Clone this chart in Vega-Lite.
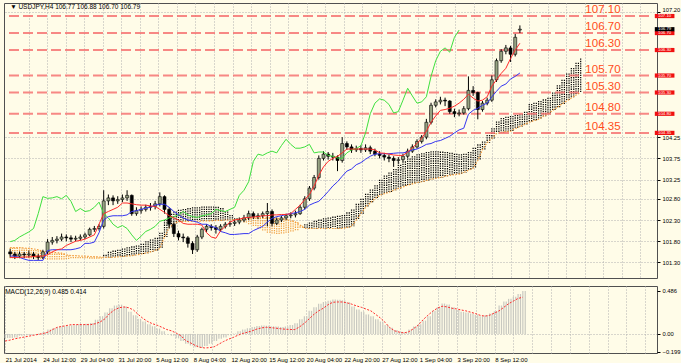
{
  "$schema": "https://vega.github.io/schema/vega-lite/v6.json",
  "background": "#fffce8",
  "padding": {"left": 2, "top": 2, "right": 0, "bottom": 0},
  "autosize": {"type": "pad"},
  "spacing": 6,
  "config": {
    "view": {"stroke": "#505050", "strokeWidth": 1, "fill": "#fffce8"},
    "font": "Liberation Sans",
    "axis": {"labelFont": "Liberation Sans", "labelFontSize": 6, "labelColor": "#000000", "domain": false, "gridColor": "#b0b0b0", "gridDash": [1, 2], "tickColor": "#000000", "tickSize": 3, "labelOverlap": false, "labelBound": false}
  },
  "datasets": {
    "titles": [
      {"w": "main", "t": "▼ USDJPY,H4  106.77 106.88 106.70 106.79"},
      {"w": "macd", "t": "MACD(12,26,9) 0.485 0.414"}
    ],
    "levels": [
      {"p": 107.10, "t": "107.10", "kind": "level"},
      {"p": 106.70, "t": "106.70", "kind": "level"},
      {"p": 106.30, "t": "106.30", "kind": "level"},
      {"p": 105.70, "t": "105.70", "kind": "level"},
      {"p": 105.30, "t": "105.30", "kind": "level"},
      {"p": 104.80, "t": "104.80", "kind": "level"},
      {"p": 104.35, "t": "104.35", "kind": "level"},
      {"p": 106.79, "t": "106.79", "kind": "price"}
    ],
    "bars": [
      {"i":0,"o":101.55,"h":101.62,"l":101.42,"c":101.5,"t":101.42,"k":101.45,"g":101.79},
      {"i":2,"o":101.5,"h":101.55,"l":101.38,"c":101.45,"t":101.42,"k":101.45,"g":101.82},
      {"i":4,"o":101.45,"h":101.56,"l":101.4,"c":101.5,"t":101.42,"k":101.42,"g":101.9},
      {"i":6,"o":101.5,"h":101.55,"l":101.4,"c":101.48,"t":101.43,"k":101.38,"g":101.96},
      {"i":8,"o":101.48,"h":101.58,"l":101.42,"c":101.5,"t":101.43,"k":101.35,"g":102.02},
      {"i":10,"o":101.5,"h":101.55,"l":101.38,"c":101.45,"t":101.44,"k":101.35,"g":102.1},
      {"i":12,"o":101.45,"h":101.5,"l":101.35,"c":101.42,"t":101.45,"k":101.35,"g":102.45},
      {"i":14,"o":101.42,"h":101.6,"l":101.38,"c":101.55,"t":101.45,"k":101.35,"g":102.85},
      {"i":16,"o":101.55,"h":101.85,"l":101.5,"c":101.78,"t":101.48,"k":101.58,"g":102.81},
      {"i":18,"o":101.78,"h":101.9,"l":101.72,"c":101.82,"t":101.55,"k":101.6,"g":102.82},
      {"i":20,"o":101.82,"h":101.92,"l":101.75,"c":101.85,"t":101.6,"k":101.6,"g":102.85},
      {"i":22,"o":101.85,"h":101.98,"l":101.8,"c":101.9,"t":101.62,"k":101.6,"g":102.8},
      {"i":24,"o":101.9,"h":101.96,"l":101.8,"c":101.88,"t":101.7,"k":101.6,"g":102.88},
      {"i":26,"o":101.88,"h":101.94,"l":101.78,"c":101.85,"t":101.75,"k":101.6,"g":102.74},
      {"i":28,"o":101.85,"h":101.93,"l":101.8,"c":101.87,"t":101.8,"k":101.62,"g":102.5},
      {"i":30,"o":101.87,"h":101.96,"l":101.82,"c":101.9,"t":101.82,"k":101.65,"g":102.57},
      {"i":32,"o":101.9,"h":102.0,"l":101.85,"c":101.95,"t":101.85,"k":101.75,"g":102.5},
      {"i":34,"o":101.95,"h":102.12,"l":101.92,"c":102.08,"t":101.9,"k":101.75,"g":102.52},
      {"i":36,"o":102.08,"h":102.16,"l":102.02,"c":102.1,"t":101.95,"k":101.78,"g":102.6},
      {"i":38,"o":102.1,"h":102.2,"l":102.05,"c":102.15,"t":102.2,"k":102.0,"g":102.72},
      {"i":40,"o":102.15,"h":103.0,"l":102.1,"c":102.75,"t":102.45,"k":102.3,"g":102.45},
      {"i":42,"o":102.75,"h":102.9,"l":102.65,"c":102.82,"t":102.5,"k":102.38,"g":102.35},
      {"i":44,"o":102.82,"h":102.88,"l":102.65,"c":102.75,"t":102.55,"k":102.4,"g":102.2},
      {"i":46,"o":102.75,"h":102.86,"l":102.68,"c":102.78,"t":102.6,"k":102.4,"g":102.12},
      {"i":48,"o":102.78,"h":102.9,"l":102.72,"c":102.82,"t":102.7,"k":102.4,"g":102.17},
      {"i":50,"o":102.82,"h":103.0,"l":102.75,"c":102.88,"t":102.7,"k":102.42,"g":102.1},
      {"i":52,"o":102.88,"h":102.9,"l":102.4,"c":102.45,"t":102.68,"k":102.5,"g":101.95},
      {"i":54,"o":102.45,"h":102.6,"l":102.4,"c":102.52,"t":102.66,"k":102.52,"g":101.82},
      {"i":56,"o":102.52,"h":102.62,"l":102.45,"c":102.55,"t":102.65,"k":102.55,"g":101.92},
      {"i":58,"o":102.55,"h":102.66,"l":102.5,"c":102.6,"t":102.65,"k":102.58,"g":102.03},
      {"i":60,"o":102.6,"h":102.7,"l":102.52,"c":102.62,"t":102.63,"k":102.6,"g":102.08},
      {"i":62,"o":102.62,"h":102.75,"l":102.55,"c":102.68,"t":102.62,"k":102.65,"g":102.15},
      {"i":64,"o":102.68,"h":102.95,"l":102.62,"c":102.85,"t":102.55,"k":102.67,"g":102.27},
      {"i":66,"o":102.85,"h":102.88,"l":102.45,"c":102.55,"t":102.48,"k":102.67,"g":102.3},
      {"i":68,"o":102.55,"h":102.6,"l":102.1,"c":102.2,"t":102.4,"k":102.6,"g":102.35},
      {"i":70,"o":102.2,"h":102.25,"l":101.9,"c":101.98,"t":102.35,"k":102.5,"g":102.38},
      {"i":72,"o":101.98,"h":102.05,"l":101.82,"c":101.9,"t":102.3,"k":102.42,"g":102.42},
      {"i":74,"o":101.9,"h":101.98,"l":101.78,"c":101.88,"t":102.22,"k":102.35,"g":102.5},
      {"i":76,"o":101.88,"h":101.92,"l":101.65,"c":101.75,"t":102.2,"k":102.3,"g":102.42},
      {"i":78,"o":101.75,"h":101.8,"l":101.5,"c":101.6,"t":102.2,"k":102.28,"g":102.38},
      {"i":80,"o":101.6,"h":101.95,"l":101.55,"c":101.9,"t":102.2,"k":102.25,"g":102.36},
      {"i":82,"o":101.9,"h":102.12,"l":101.85,"c":102.08,"t":102.18,"k":102.2,"g":102.4},
      {"i":84,"o":102.08,"h":102.2,"l":102.02,"c":102.15,"t":102.0,"k":102.2,"g":102.42},
      {"i":86,"o":102.15,"h":102.2,"l":102.05,"c":102.12,"t":101.9,"k":102.15,"g":102.45},
      {"i":88,"o":102.12,"h":102.18,"l":101.98,"c":102.08,"t":101.87,"k":102.12,"g":102.55},
      {"i":90,"o":102.08,"h":102.2,"l":102.02,"c":102.15,"t":102.05,"k":102.03,"g":102.52},
      {"i":92,"o":102.15,"h":102.25,"l":102.1,"c":102.2,"t":102.15,"k":102.0,"g":102.5},
      {"i":94,"o":102.2,"h":102.28,"l":102.14,"c":102.22,"t":102.25,"k":101.96,"g":102.55},
      {"i":96,"o":102.22,"h":102.3,"l":102.16,"c":102.25,"t":102.3,"k":101.96,"g":102.6},
      {"i":98,"o":102.25,"h":102.36,"l":102.2,"c":102.3,"t":102.32,"k":101.97,"g":102.88},
      {"i":100,"o":102.3,"h":102.42,"l":102.25,"c":102.35,"t":102.35,"k":101.98,"g":103.0},
      {"i":102,"o":102.35,"h":102.52,"l":102.3,"c":102.45,"t":102.36,"k":101.98,"g":103.2},
      {"i":104,"o":102.45,"h":102.5,"l":102.32,"c":102.38,"t":102.37,"k":102.05,"g":103.68},
      {"i":106,"o":102.38,"h":102.46,"l":102.32,"c":102.4,"t":102.38,"k":102.1,"g":103.85},
      {"i":108,"o":102.4,"h":102.5,"l":102.35,"c":102.45,"t":102.4,"k":102.15,"g":103.82},
      {"i":110,"o":102.45,"h":102.7,"l":102.15,"c":102.5,"t":102.4,"k":102.25,"g":103.88},
      {"i":112,"o":102.5,"h":102.55,"l":102.15,"c":102.22,"t":102.42,"k":102.34,"g":103.92},
      {"i":114,"o":102.22,"h":102.36,"l":102.18,"c":102.3,"t":102.42,"k":102.38,"g":103.88},
      {"i":116,"o":102.3,"h":102.4,"l":102.25,"c":102.35,"t":102.43,"k":102.4,"g":104.05},
      {"i":118,"o":102.35,"h":102.45,"l":102.3,"c":102.4,"t":102.43,"k":102.43,"g":104.2},
      {"i":120,"o":102.4,"h":102.48,"l":102.34,"c":102.42,"t":102.45,"k":102.45,"g":104.08},
      {"i":122,"o":102.42,"h":102.52,"l":102.36,"c":102.45,"t":102.55,"k":102.47,"g":103.99},
      {"i":124,"o":102.45,"h":102.66,"l":102.42,"c":102.6,"t":102.65,"k":102.5,"g":103.99},
      {"i":126,"o":102.6,"h":102.86,"l":102.55,"c":102.8,"t":102.78,"k":102.55,"g":104.02},
      {"i":128,"o":102.8,"h":103.1,"l":102.75,"c":103.05,"t":102.9,"k":102.65,"g":104.08},
      {"i":130,"o":103.05,"h":103.36,"l":103.0,"c":103.3,"t":103.1,"k":102.7,"g":103.88},
      {"i":132,"o":103.3,"h":103.82,"l":103.25,"c":103.75,"t":103.35,"k":102.74,"g":103.9},
      {"i":134,"o":103.75,"h":103.92,"l":103.7,"c":103.85,"t":103.55,"k":102.85,"g":103.9},
      {"i":136,"o":103.85,"h":103.9,"l":103.72,"c":103.8,"t":103.68,"k":102.97,"g":103.82},
      {"i":138,"o":103.8,"h":103.88,"l":103.7,"c":103.78,"t":103.75,"k":103.1,"g":103.8},
      {"i":140,"o":103.78,"h":103.82,"l":103.45,"c":103.7,"t":103.8,"k":103.2,"g":103.76},
      {"i":142,"o":103.7,"h":104.25,"l":103.65,"c":104.1,"t":103.88,"k":103.33,"g":103.75},
      {"i":144,"o":104.1,"h":104.15,"l":103.95,"c":104.02,"t":103.97,"k":103.45,"g":103.88},
      {"i":146,"o":104.02,"h":104.08,"l":103.88,"c":103.95,"t":103.97,"k":103.5,"g":103.95},
      {"i":148,"o":103.95,"h":104.05,"l":103.9,"c":103.98,"t":103.97,"k":103.6,"g":103.98},
      {"i":150,"o":103.98,"h":104.06,"l":103.88,"c":103.95,"t":103.97,"k":103.65,"g":104.05},
      {"i":152,"o":103.95,"h":104.08,"l":103.9,"c":104.0,"t":103.97,"k":103.73,"g":104.35},
      {"i":154,"o":104.0,"h":104.05,"l":103.85,"c":103.92,"t":103.97,"k":103.8,"g":104.8},
      {"i":156,"o":103.92,"h":103.98,"l":103.8,"c":103.85,"t":103.95,"k":103.85,"g":105.05},
      {"i":158,"o":103.85,"h":103.92,"l":103.75,"c":103.82,"t":103.88,"k":103.86,"g":105.15},
      {"i":160,"o":103.82,"h":103.88,"l":103.7,"c":103.78,"t":103.87,"k":103.86,"g":105.12},
      {"i":162,"o":103.78,"h":103.84,"l":103.66,"c":103.75,"t":103.85,"k":103.86,"g":105.02},
      {"i":164,"o":103.75,"h":103.8,"l":103.55,"c":103.7,"t":103.83,"k":103.87,"g":104.82},
      {"i":166,"o":103.7,"h":103.78,"l":103.62,"c":103.72,"t":103.82,"k":103.88,"g":104.85},
      {"i":168,"o":103.72,"h":103.86,"l":103.68,"c":103.8,"t":103.82,"k":103.88,"g":105.12},
      {"i":170,"o":103.8,"h":103.98,"l":103.76,"c":103.92,"t":103.9,"k":103.9,"g":105.4},
      {"i":172,"o":103.92,"h":104.08,"l":103.88,"c":104.02,"t":104.0,"k":103.95,"g":105.22},
      {"i":174,"o":104.02,"h":104.2,"l":103.98,"c":104.15,"t":104.1,"k":103.97,"g":105.05},
      {"i":176,"o":104.15,"h":104.3,"l":104.1,"c":104.25,"t":104.22,"k":104.02,"g":105.08},
      {"i":178,"o":104.25,"h":104.68,"l":104.2,"c":104.6,"t":104.39,"k":104.08,"g":105.2},
      {"i":180,"o":104.6,"h":105.06,"l":104.55,"c":105.0,"t":104.6,"k":104.1,"g":105.68},
      {"i":182,"o":105.0,"h":105.14,"l":104.95,"c":105.08,"t":104.75,"k":104.15,"g":106.05},
      {"i":184,"o":105.08,"h":105.2,"l":105.02,"c":105.12,"t":104.88,"k":104.17,"g":106.27},
      {"i":186,"o":105.12,"h":105.18,"l":104.98,"c":105.1,"t":104.9,"k":104.22,"g":106.35},
      {"i":188,"o":105.1,"h":105.12,"l":104.8,"c":104.85,"t":104.93,"k":104.27,"g":106.25},
      {"i":190,"o":104.85,"h":104.92,"l":104.72,"c":104.8,"t":104.98,"k":104.35,"g":106.6},
      {"i":192,"o":104.8,"h":104.9,"l":104.74,"c":104.82,"t":105.05,"k":104.42,"g":106.77},
      {"i":194,"o":104.82,"h":104.98,"l":104.78,"c":104.92,"t":105.14,"k":104.46},
      {"i":196,"o":104.92,"h":105.68,"l":104.88,"c":105.35,"t":105.26,"k":104.79},
      {"i":198,"o":105.35,"h":105.45,"l":105.22,"c":105.3,"t":105.17,"k":104.88},
      {"i":200,"o":105.3,"h":105.32,"l":104.67,"c":104.9,"t":105.1,"k":104.93},
      {"i":202,"o":104.9,"h":105.1,"l":104.85,"c":105.05,"t":105.12,"k":105.0},
      {"i":204,"o":105.05,"h":105.18,"l":105.0,"c":105.12,"t":105.2,"k":105.05},
      {"i":206,"o":105.12,"h":105.7,"l":105.08,"c":105.6,"t":105.45,"k":105.2},
      {"i":208,"o":105.6,"h":106.1,"l":105.55,"c":106.05,"t":105.6,"k":105.33},
      {"i":210,"o":106.05,"h":106.32,"l":106.0,"c":106.27,"t":105.75,"k":105.45},
      {"i":212,"o":106.27,"h":106.42,"l":106.2,"c":106.35,"t":105.87,"k":105.5},
      {"i":214,"o":106.35,"h":106.4,"l":106.02,"c":106.2,"t":106.1,"k":105.62},
      {"i":216,"o":106.2,"h":106.68,"l":106.15,"c":106.6,"t":106.3,"k":105.68},
      {"i":218,"o":106.77,"h":106.88,"l":106.7,"c":106.79,"t":106.46,"k":105.76}
    ],
    "cloud": [
      {"i":0,"a":101.4,"b":101.65},{"i":2,"a":101.4,"b":101.65},{"i":4,"a":101.41,"b":101.65},{"i":6,"a":101.41,"b":101.64},
      {"i":8,"a":101.4,"b":101.63},{"i":10,"a":101.4,"b":101.62},{"i":12,"a":101.39,"b":101.6},{"i":14,"a":101.38,"b":101.56},
      {"i":16,"a":101.37,"b":101.55},{"i":18,"a":101.37,"b":101.54},{"i":20,"a":101.37,"b":101.53},{"i":22,"a":101.37,"b":101.52},
      {"i":24,"a":101.38,"b":101.48},{"i":26,"a":101.4,"b":101.46},{"i":28,"a":101.4,"b":101.46},{"i":30,"a":101.4,"b":101.45},
      {"i":32,"a":101.4,"b":101.45},{"i":34,"a":101.39,"b":101.44},{"i":36,"a":101.39,"b":101.44},{"i":38,"a":101.39,"b":101.43},
      {"i":40,"a":101.48,"b":101.42},{"i":42,"a":101.55,"b":101.42},{"i":44,"a":101.58,"b":101.42},{"i":46,"a":101.6,"b":101.43},
      {"i":48,"a":101.63,"b":101.44},{"i":50,"a":101.66,"b":101.45},{"i":52,"a":101.68,"b":101.46},{"i":54,"a":101.7,"b":101.48},
      {"i":56,"a":101.74,"b":101.5},{"i":58,"a":101.8,"b":101.52},{"i":60,"a":101.84,"b":101.55},{"i":62,"a":101.88,"b":101.58},
      {"i":64,"a":102.0,"b":101.63},{"i":66,"a":102.3,"b":101.9},{"i":68,"a":102.45,"b":102.12},{"i":70,"a":102.5,"b":102.22},
      {"i":72,"a":102.54,"b":102.26},{"i":74,"a":102.56,"b":102.27},{"i":76,"a":102.58,"b":102.27},{"i":78,"a":102.6,"b":102.27},
      {"i":80,"a":102.6,"b":102.27},{"i":82,"a":102.62,"b":102.28},{"i":84,"a":102.62,"b":102.28},{"i":86,"a":102.62,"b":102.28},
      {"i":88,"a":102.61,"b":102.29},{"i":90,"a":102.58,"b":102.29},{"i":92,"a":102.5,"b":102.3},{"i":94,"a":102.42,"b":102.3},
      {"i":96,"a":102.34,"b":102.31},{"i":98,"a":102.28,"b":102.32},{"i":100,"a":102.24,"b":102.33},{"i":102,"a":102.2,"b":102.34},
      {"i":104,"a":102.16,"b":102.35},{"i":106,"a":102.1,"b":102.35},{"i":108,"a":102.05,"b":102.35},{"i":110,"a":102.0,"b":102.35},
      {"i":112,"a":101.98,"b":102.35},{"i":114,"a":101.97,"b":102.34},{"i":116,"a":101.98,"b":102.33},{"i":118,"a":102.0,"b":102.32},
      {"i":120,"a":102.03,"b":102.3},{"i":122,"a":102.06,"b":102.25},{"i":124,"a":102.12,"b":102.18},{"i":126,"a":102.2,"b":102.1},
      {"i":128,"a":102.24,"b":102.1},{"i":130,"a":102.28,"b":102.1},{"i":132,"a":102.31,"b":102.1},{"i":134,"a":102.34,"b":102.1},
      {"i":136,"a":102.36,"b":102.1},{"i":138,"a":102.38,"b":102.1},{"i":140,"a":102.4,"b":102.1},{"i":142,"a":102.42,"b":102.1},
      {"i":144,"a":102.48,"b":102.12},{"i":146,"a":102.55,"b":102.15},{"i":148,"a":102.68,"b":102.3},{"i":150,"a":102.8,"b":102.45},
      {"i":152,"a":102.92,"b":102.6},{"i":154,"a":103.02,"b":102.7},{"i":156,"a":103.12,"b":102.8},{"i":158,"a":103.25,"b":102.88},
      {"i":160,"a":103.35,"b":102.92},{"i":162,"a":103.42,"b":102.95},{"i":164,"a":103.5,"b":103.0},{"i":166,"a":103.6,"b":103.04},
      {"i":168,"a":103.68,"b":103.08},{"i":170,"a":103.75,"b":103.12},{"i":172,"a":103.8,"b":103.15},{"i":174,"a":103.85,"b":103.18},
      {"i":176,"a":103.87,"b":103.2},{"i":178,"a":103.9,"b":103.23},{"i":180,"a":103.92,"b":103.26},{"i":182,"a":103.92,"b":103.28},
      {"i":184,"a":103.91,"b":103.3},{"i":186,"a":103.9,"b":103.33},{"i":188,"a":103.88,"b":103.35},{"i":190,"a":103.86,"b":103.37},
      {"i":192,"a":103.85,"b":103.38},{"i":194,"a":103.86,"b":103.42},{"i":196,"a":103.9,"b":103.47},{"i":198,"a":104.0,"b":103.52},
      {"i":200,"a":104.08,"b":103.7},{"i":202,"a":104.15,"b":103.96},{"i":204,"a":104.3,"b":104.12},{"i":206,"a":104.46,"b":104.22},
      {"i":208,"a":104.62,"b":104.34},{"i":210,"a":104.7,"b":104.36},{"i":212,"a":104.73,"b":104.38},{"i":214,"a":104.75,"b":104.39},
      {"i":216,"a":104.77,"b":104.45},{"i":218,"a":104.79,"b":104.5},{"i":220,"a":104.85,"b":104.55},{"i":222,"a":105.03,"b":104.6},
      {"i":224,"a":105.06,"b":104.64},{"i":226,"a":105.1,"b":104.67},{"i":228,"a":105.14,"b":104.74},{"i":230,"a":105.18,"b":104.79},
      {"i":232,"a":105.3,"b":104.88},{"i":234,"a":105.47,"b":104.95},{"i":236,"a":105.6,"b":105.03},{"i":238,"a":105.75,"b":105.1},
      {"i":240,"a":105.88,"b":105.17},{"i":242,"a":106.0,"b":105.24},{"i":244,"a":106.1,"b":105.3}
    ],
    "macd": [
      {"i":0,"m":-0.045,"s":-0.08},{"i":2,"m":-0.045,"s":-0.07},{"i":4,"m":-0.04,"s":-0.055},{"i":6,"m":-0.02,"s":-0.045},
      {"i":8,"m":-0.015,"s":-0.035},{"i":10,"m":-0.01,"s":-0.025},{"i":12,"m":0.0,"s":-0.015},{"i":14,"m":0.005,"s":-0.005},
      {"i":16,"m":0.02,"s":0.005},{"i":18,"m":0.05,"s":0.02},{"i":20,"m":0.06,"s":0.05},{"i":22,"m":0.075,"s":0.075},
      {"i":24,"m":0.086,"s":0.085},{"i":26,"m":0.09,"s":0.095},{"i":28,"m":0.098,"s":0.105},{"i":30,"m":0.105,"s":0.105},
      {"i":32,"m":0.108,"s":0.105},{"i":34,"m":0.115,"s":0.105},{"i":36,"m":0.122,"s":0.105},{"i":38,"m":0.16,"s":0.115},
      {"i":40,"m":0.2,"s":0.135},{"i":42,"m":0.24,"s":0.17},{"i":44,"m":0.29,"s":0.23},{"i":46,"m":0.32,"s":0.27},
      {"i":48,"m":0.33,"s":0.295},{"i":50,"m":0.31,"s":0.304},{"i":52,"m":0.25,"s":0.295},{"i":54,"m":0.21,"s":0.27},
      {"i":56,"m":0.17,"s":0.22},{"i":58,"m":0.14,"s":0.175},{"i":60,"m":0.11,"s":0.14},{"i":62,"m":0.086,"s":0.115},
      {"i":64,"m":0.06,"s":0.098},{"i":66,"m":0.03,"s":0.075},{"i":68,"m":0.0,"s":0.05},{"i":70,"m":-0.02,"s":0.035},
      {"i":72,"m":-0.05,"s":0.01},{"i":74,"m":-0.08,"s":-0.02},{"i":76,"m":-0.11,"s":-0.075},{"i":78,"m":-0.13,"s":-0.1},
      {"i":80,"m":-0.15,"s":-0.13},{"i":82,"m":-0.155,"s":-0.15},{"i":84,"m":-0.135,"s":-0.158},{"i":86,"m":-0.11,"s":-0.155},
      {"i":88,"m":-0.08,"s":-0.145},{"i":90,"m":-0.055,"s":-0.115},{"i":92,"m":-0.04,"s":-0.085},{"i":94,"m":-0.015,"s":-0.06},
      {"i":96,"m":0.005,"s":-0.04},{"i":98,"m":0.03,"s":-0.015},{"i":100,"m":0.049,"s":0.005},{"i":102,"m":0.065,"s":0.019},
      {"i":104,"m":0.079,"s":0.035},{"i":106,"m":0.088,"s":0.055},{"i":108,"m":0.094,"s":0.068},{"i":110,"m":0.092,"s":0.075},
      {"i":112,"m":0.086,"s":0.07},{"i":114,"m":0.083,"s":0.065},{"i":116,"m":0.079,"s":0.058},{"i":118,"m":0.085,"s":0.053},
      {"i":120,"m":0.1,"s":0.05},{"i":122,"m":0.12,"s":0.049},{"i":124,"m":0.165,"s":0.08},{"i":126,"m":0.2,"s":0.12},
      {"i":128,"m":0.26,"s":0.17},{"i":130,"m":0.3,"s":0.22},{"i":132,"m":0.34,"s":0.26},{"i":134,"m":0.36,"s":0.29},
      {"i":136,"m":0.375,"s":0.33},{"i":138,"m":0.387,"s":0.357},{"i":140,"m":0.385,"s":0.36},{"i":142,"m":0.38,"s":0.36},
      {"i":144,"m":0.357,"s":0.35},{"i":146,"m":0.31,"s":0.335},{"i":148,"m":0.274,"s":0.315},{"i":150,"m":0.25,"s":0.3},
      {"i":152,"m":0.22,"s":0.28},{"i":154,"m":0.2,"s":0.26},{"i":156,"m":0.165,"s":0.22},{"i":158,"m":0.14,"s":0.18},
      {"i":160,"m":0.1,"s":0.13},{"i":162,"m":0.07,"s":0.07},{"i":164,"m":0.045,"s":0.035},{"i":166,"m":0.025,"s":0.02},
      {"i":168,"m":0.019,"s":0.011},{"i":170,"m":0.05,"s":0.025},{"i":172,"m":0.085,"s":0.06},{"i":174,"m":0.11,"s":0.1},
      {"i":176,"m":0.15,"s":0.16},{"i":178,"m":0.2,"s":0.21},{"i":180,"m":0.26,"s":0.255},{"i":182,"m":0.3,"s":0.29},
      {"i":184,"m":0.342,"s":0.312},{"i":186,"m":0.331,"s":0.305},{"i":188,"m":0.3,"s":0.29},{"i":190,"m":0.27,"s":0.282},
      {"i":192,"m":0.25,"s":0.27},{"i":194,"m":0.24,"s":0.26},{"i":196,"m":0.23,"s":0.245},{"i":198,"m":0.215,"s":0.23},
      {"i":200,"m":0.2,"s":0.21},{"i":202,"m":0.21,"s":0.2},{"i":204,"m":0.23,"s":0.21},{"i":206,"m":0.256,"s":0.235},
      {"i":208,"m":0.32,"s":0.26},{"i":210,"m":0.365,"s":0.3},{"i":212,"m":0.395,"s":0.34},{"i":214,"m":0.42,"s":0.37},
      {"i":216,"m":0.45,"s":0.4},{"i":218,"m":0.485,"s":0.414}
    ]
  },
  "vconcat": [
    {
      "width": 653,
      "height": 275,
      "resolve": {"axis": {"x": "independent", "y": "independent"}},
      "layer": [
        {
          "data": {"name": "cloud"},
          "mark": {"type": "rule", "strokeWidth": 1.2, "strokeDash": [1.3, 1]},
          "encoding": {
            "x": {"field": "i", "type": "quantitative", "scale": {"domain": [-0.5, 274.5], "nice": false, "zero": false},
                  "axis": {"values": [7.87,15.8,23.73,31.66,39.59,47.52,55.45,63.38,71.31,79.24,87.17,95.1,103.03,110.96,118.89,126.82,134.75,142.68,150.61,158.54,166.47,174.4,182.33,190.26,198.19,206.12,214.05,221.98,229.91,237.84,245.77,253.7,261.63,269.56], "labels": false, "ticks": false, "grid": true, "title": null}},
            "y": {"field": "a", "type": "quantitative", "scale": {"domain": [100.935, 107.407], "nice": false, "zero": false},
                  "axis": {"orient": "right", "title": null, "grid": true, "format": ".2f", "labelPadding": 2, "labelFontSize": 5.8, "labelOverlap": false,
                           "labelOffset": {"condition": {"test": "datum.value > 107", "value": -2.2}, "value": 0},
                           "values": [107.2,104.25,103.75,103.25,102.8,102.3,101.8,101.3]}},
            "y2": {"field": "b"},
            "color": {"condition": {"test": "datum.a > datum.b", "value": "#000000"}, "value": "#f0a040"}
          }
        },
        {
          "data": {"name": "cloud"},
          "mark": {"type": "rule", "strokeWidth": 1.2, "strokeDash": [1.3, 1], "xOffset": 2.4},
          "transform": [{"filter": "datum.i < 244"}],
          "encoding": {
            "x": {"field": "i", "type": "quantitative", "axis": null},
            "y": {"field": "a", "type": "quantitative", "axis": null},
            "y2": {"field": "b"},
            "color": {"condition": {"test": "datum.a > datum.b", "value": "#000000"}, "value": "#f0a040"}
          }
        },
        {
          "data": {"name": "cloud"},
          "mark": {"type": "line", "color": "#f39a3a", "strokeWidth": 1.2, "strokeDash": [1.5, 1.5]},
          "encoding": {
            "x": {"field": "i", "type": "quantitative", "axis": null},
            "y": {"field": "b", "type": "quantitative", "axis": null}
          }
        },
        {
          "data": {"name": "levels"},
          "transform": [{"filter": "datum.kind == 'level'"}],
          "mark": {"type": "rule", "color": "#f56a6a", "strokeWidth": 2, "strokeDash": [10, 4], "opacity": 0.8},
          "encoding": {
            "x": {"datum": -0.5, "type": "quantitative", "axis": null},
            "x2": {"datum": 274.5},
            "y": {"field": "p", "type": "quantitative", "axis": null}
          }
        },
        {
          "data": {"name": "bars"},
          "mark": {"type": "rule", "color": "#000000", "strokeWidth": 1},
          "encoding": {
            "x": {"field": "i", "type": "quantitative", "axis": null},
            "y": {"field": "l", "type": "quantitative", "axis": null},
            "y2": {"field": "h"}
          }
        },
        {
          "data": {"name": "bars"},
          "mark": {"type": "bar", "width": 3, "stroke": "#000000", "strokeWidth": 0.6},
          "encoding": {
            "x": {"field": "i", "type": "quantitative", "axis": null},
            "y": {"field": "o", "type": "quantitative", "axis": null},
            "y2": {"field": "c"},
            "fill": {"condition": {"test": "datum.c >= datum.o", "value": "#98a483"}, "value": "#000000"}
          }
        },
        {
          "data": {"name": "bars"},
          "mark": {"type": "line", "color": "#3ee03e", "strokeWidth": 1},
          "encoding": {
            "x": {"field": "i", "type": "quantitative", "axis": null},
            "y": {"field": "g", "type": "quantitative", "axis": null}
          }
        },
        {
          "data": {"name": "bars"},
          "mark": {"type": "line", "color": "#3535f0", "strokeWidth": 1},
          "encoding": {
            "x": {"field": "i", "type": "quantitative", "axis": null},
            "y": {"field": "k", "type": "quantitative", "axis": null}
          }
        },
        {
          "data": {"name": "bars"},
          "mark": {"type": "line", "color": "#ff2a2a", "strokeWidth": 1},
          "encoding": {
            "x": {"field": "i", "type": "quantitative", "axis": null},
            "y": {"field": "t", "type": "quantitative", "axis": null}
          }
        },
        {
          "data": {"name": "levels"},
          "transform": [{"filter": "datum.kind == 'level'"}],
          "mark": {"type": "text", "color": "#ff4d1a", "fontSize": 11.5, "font": "Liberation Sans", "align": "left", "baseline": "middle", "dy": -6},
          "encoding": {
            "x": {"datum": 246, "type": "quantitative", "axis": null},
            "y": {"field": "p", "type": "quantitative", "axis": null},
            "text": {"field": "t"}
          }
        },
        {
          "data": {"name": "levels"},
          "mark": {"type": "rule", "strokeWidth": 4.2, "strokeCap": "butt"},
          "encoding": {
            "x": {"datum": 275.7, "type": "quantitative", "axis": null},
            "x2": {"datum": 284.1},
            "y": {"field": "p", "type": "quantitative", "axis": null},
            "color": {"condition": {"test": "datum.kind == 'level'", "value": "#f01010"}, "value": "#000000"}
          }
        },
        {
          "data": {"name": "levels"},
          "mark": {"type": "text", "color": "#ffffff", "fontSize": 4.3, "font": "Liberation Sans", "align": "center", "baseline": "middle"},
          "encoding": {
            "x": {"datum": 279.9, "type": "quantitative", "axis": null},
            "y": {"field": "p", "type": "quantitative", "axis": null},
            "text": {"field": "t"}
          }
        },
        {
          "data": {"name": "titles"},
          "transform": [{"filter": "datum.w == 'main'"}],
          "mark": {"type": "text", "color": "#000000", "fontSize": 6.5, "font": "Liberation Sans", "align": "left", "baseline": "middle"},
          "encoding": {
            "x": {"datum": 0, "type": "quantitative", "axis": null},
            "y": {"datum": 107.31, "type": "quantitative", "axis": null},
            "text": {"field": "t"}
          }
        }
      ]
    },
    {
      "width": 653,
      "height": 67,
      "resolve": {"axis": {"x": "independent", "y": "independent"}},
      "layer": [
        {
          "data": {"name": "macd"},
          "mark": {"type": "rule", "color": "#c8c8c0", "strokeWidth": 1.2},
          "encoding": {
            "x": {"field": "i", "type": "quantitative", "scale": {"domain": [-0.5, 274.5], "nice": false, "zero": false},
                  "axis": {"values": [0,7.87,15.8,23.73,31.66,39.59,47.52,55.45,63.38,71.31,79.24,87.17,95.1,103.03,110.96,118.89,126.82,134.75,142.68,150.61,158.54,166.47,174.4,182.33,190.26,198.19,206.12,214.05,221.98,229.91,237.84,245.77,253.7,261.63,269.56],
                           "grid": true, "ticks": false, "title": null, "labelAlign": "left", "labelPadding": 3, "labelFlush": false, "labelOverlap": false,
                           "labelExpr": "(['21 Jul 2014','24 Jul 12:00','29 Jul 04:00','31 Jul 20:00','5 Aug 12:00','8 Aug 04:00','12 Aug 20:00','15 Aug 12:00','20 Aug 04:00','22 Aug 20:00','27 Aug 12:00','1 Sep 04:00','3 Sep 20:00','8 Sep 12:00'])[indexof([0,16,32,48,63,79,95,111,127,143,159,174,190,206], round(datum.value))] || ''"}},
            "y": {"field": "m", "type": "quantitative", "scale": {"domain": [-0.215, 0.54], "nice": false, "zero": false},
                  "axis": {"orient": "right", "title": null, "values": [0.486, 0, -0.199], "labelPadding": 2, "grid": true, "labelOverlap": false, "labelFontSize": 5.8,
                           "gridOpacity": {"condition": {"test": "datum.value == 0", "value": 1}, "value": 0},
                           "labelExpr": "datum.value == 0 ? '0.00' : format(datum.value, '.3f')"}},
            "y2": {"datum": 0}
          }
        },
        {
          "data": {"name": "macd"},
          "mark": {"type": "rule", "color": "#c8c8c0", "strokeWidth": 1.2, "xOffset": 2.4},
          "encoding": {
            "x": {"field": "i", "type": "quantitative", "axis": null},
            "y": {"field": "m", "type": "quantitative", "axis": null},
            "y2": {"datum": 0}
          }
        },
        {
          "data": {"name": "macd"},
          "mark": {"type": "line", "color": "#ff2a2a", "strokeWidth": 1, "strokeDash": [2, 1.5]},
          "encoding": {
            "x": {"field": "i", "type": "quantitative", "axis": null},
            "y": {"field": "s", "type": "quantitative", "axis": null}
          }
        },
        {
          "data": {"name": "titles"},
          "transform": [{"filter": "datum.w == 'macd'"}],
          "mark": {"type": "text", "color": "#000000", "fontSize": 6.5, "font": "Liberation Sans", "align": "left", "baseline": "middle"},
          "encoding": {
            "x": {"datum": 0, "type": "quantitative", "axis": null},
            "y": {"datum": 0.47, "type": "quantitative", "axis": null},
            "text": {"field": "t"}
          }
        }
      ]
    }
  ]
}
